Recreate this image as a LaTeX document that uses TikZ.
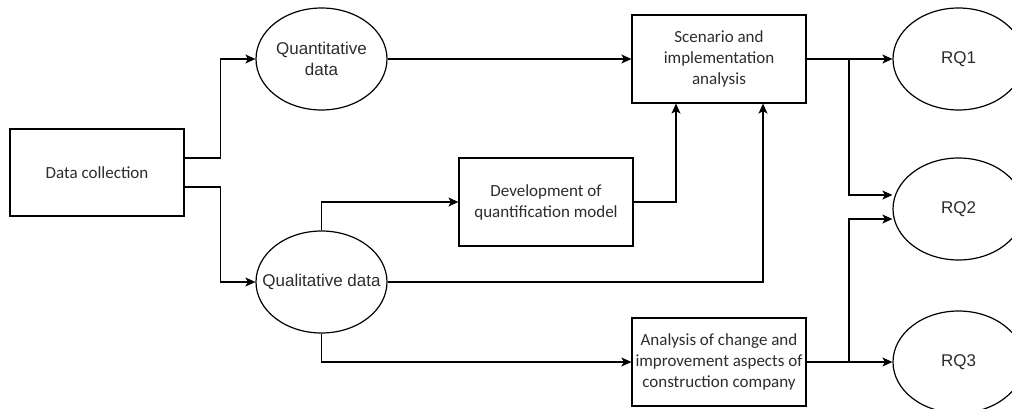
\documentclass[tikz,border=0pt]{standalone}
\usepackage{fontspec}
\setmainfont{Carlito}
\newfontfamily\arialfont{Liberation Sans}
\usetikzlibrary{shapes.geometric,arrows.meta}
\definecolor{txt}{RGB}{45,45,45}
\tikzset{
  box/.style={draw=black, line width=1.2pt, rectangle, minimum width=174pt, minimum height=88pt, inner sep=1pt, align=center, text=txt, font=\fontsize{17}{21}\selectfont},
  oval/.style={draw=black, line width=1.2pt, ellipse, minimum width=131pt, minimum height=102pt, inner sep=0pt},
  ovaltext/.style={align=center, text=txt, font=\arialfont\fontsize{17}{21}\selectfont},
  arr/.style={line width=1.2pt, -{Stealth[length=10pt,width=9pt,inset=2.5pt]}},
  ln/.style={line width=1.2pt}
}
\begin{document}
\begin{tikzpicture}[x=1pt,y=-1pt]
\useasboundingbox[clip] (0,0) rectangle (1012,409);
\fill[white] (0,0) rectangle (1012,409);
% nodes
\node[box, minimum width=174pt, minimum height=87pt] (dc) at (97,172.5) {Data collection};
\node[oval, label={[ovaltext]center:Quantitative\\data}] (quant) at (321.5,59) {};
\node[oval, label={[ovaltext]center:Qualitative data}] (qual) at (321.5,282) {};
\node[box] (dev) at (546,202) {Development of\\quantification model};
\node[box] (scen) at (719,59) {Scenario and\\implementation\\analysis};
\node[box] (ana) at (719,362) {Analysis of change and\\improvement aspects of\\construction company};
\node[oval, label={[ovaltext]center:RQ1}] (rq1) at (958.5,59) {};
\node[oval, label={[ovaltext]center:RQ2}] (rq2) at (958.5,209) {};
\node[oval, label={[ovaltext]center:RQ3}] (rq3) at (958.5,362) {};
\coordinate (b1) at (849,59);
\coordinate (b2) at (849,362);
% connectors
\draw[arr] ([yshift=14.5pt]dc.east) -- ++(36pt,0) |- (quant.west);
\draw[arr] ([yshift=-14.5pt]dc.east) -- ++(36pt,0) |- (qual.west);
\draw[arr] (quant.east) -- (scen.west);
\draw[arr] (qual.north) |- (dev.west);
\draw[arr] (dev.east) -| ([xshift=-43pt]scen.south);
\draw[arr] (qual.east) -| ([xshift=44pt]scen.south);
\draw[arr] (qual.south) |- (ana.west);
\draw[ln] (scen.east) -- (b1);
\draw[arr] (b1) -- (rq1.west);
\draw[arr] (b1) |- ([yshift=14pt]rq2.west);
\draw[ln] (ana.east) -- (b2);
\draw[arr] (b2) -- (rq3.west);
\draw[arr] (b2) |- ([yshift=-10pt]rq2.west);
\end{tikzpicture}
\end{document}
